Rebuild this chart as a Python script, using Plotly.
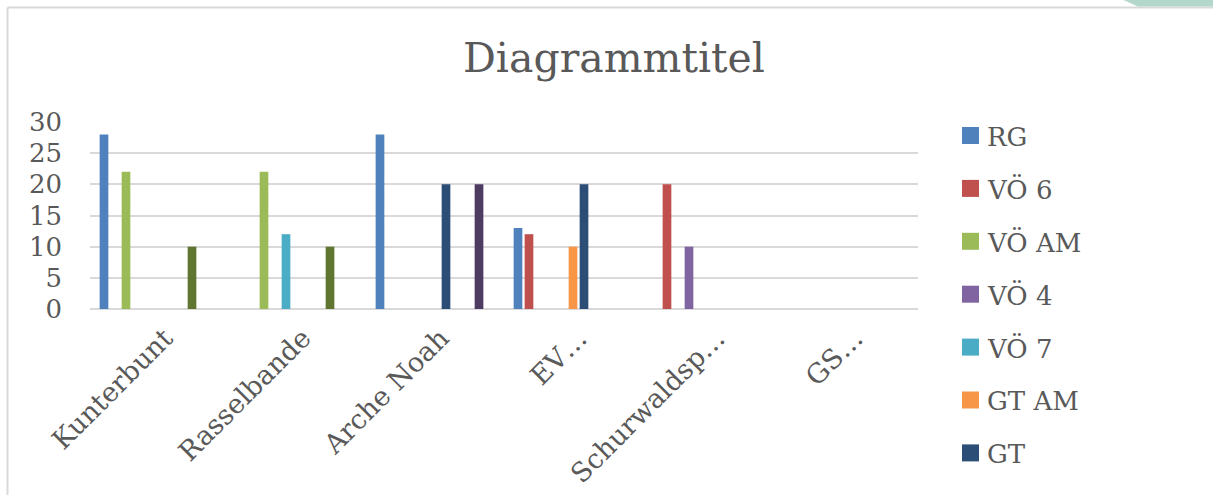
import plotly.graph_objects as go

# Categories (x axis) and series
categories = ["Kunterbunt", "Rasselbande", "Arche Noah", "EV…", "Schurwaldsp…", "GS…"]

series_names = ["RG", "VÖ 6", "VÖ AM", "VÖ 4", "VÖ 7", "GT AM", "GT",
                "GT 6", "GT 4", "GT 7", "Sonstige"]
series_colors = ["#4F81BD", "#C0504D", "#9BBB59", "#8064A2", "#4BACC6", "#F79646",
                 "#2C4D75", "#772C2A", "#5F7530", "#4D3B62", "#276A7C"]

N = None
series_values = [
    [28, N, 28, 13, N, N],    # RG
    [N, N, N, 12, 20, N],     # VÖ 6
    [22, 22, N, N, N, N],     # VÖ AM
    [N, N, N, N, 10, N],      # VÖ 4
    [N, 12, N, N, N, N],      # VÖ 7
    [N, N, N, 10, N, N],      # GT AM
    [N, N, 20, 20, N, N],     # GT
    [N, N, N, N, N, N],       # GT 6
    [10, 10, N, N, N, N],     # GT 4
    [N, N, 20, N, N, N],      # GT 7
    [N, N, N, N, N, N],       # Sonstige
]

y_ticks = [0, 5, 10, 15, 20, 25, 30]
legend_rows = 7  # entries that fit below the title area

W, H = 1213, 495
PL, PR, PT, PB = 90, 918, 122, 309  # plot area in pixels

TEXT = "#595959"
GRID = "#D9D9D9"
FONT = "DejaVu Serif"


def px_x(px):
    return (px - PL) / (PR - PL)


def px_y(py):
    return (PB - py) / (PB - PT)


fig = go.Figure()
for name, color, vals in zip(series_names, series_colors, series_values):
    fig.add_trace(go.Bar(
        x=categories, y=vals, name=name,
        marker=dict(color=color, line=dict(width=0)),
        showlegend=False,
    ))

shapes = [
    # chart frame (left and top edges)
    dict(type="line", xref="paper", yref="paper",
         x0=px_x(7.5), x1=px_x(7.5), y0=px_y(7.5), y1=px_y(H + 5),
         line=dict(color=GRID, width=2)),
    dict(type="line", xref="paper", yref="paper",
         x0=px_x(7.5), x1=px_x(W + 5), y0=px_y(7.5), y1=px_y(7.5),
         line=dict(color=GRID, width=2)),
    # slide decoration in the top-right corner
    dict(type="path", xref="paper", yref="paper",
         path=f"M {px_x(1119)} {px_y(-2)} L {px_x(1138)} {px_y(6.5)} "
              f"L {px_x(W + 5)} {px_y(6.5)} L {px_x(W + 5)} {px_y(-2)} Z",
         fillcolor="#B3D7CB", line=dict(width=0)),
]
annotations = [
    dict(text="Diagrammtitel", xref="paper", yref="paper",
         x=px_x(614), y=px_y(58), xanchor="center", yanchor="middle",
         showarrow=False, font=dict(family=FONT, size=41, color=TEXT)),
]

# legend drawn as squares with labels
for i in range(legend_rows):
    cy = 135.5 + i * 52.9
    shapes.append(dict(type="rect", xref="paper", yref="paper",
                       x0=px_x(962), x1=px_x(979), y0=px_y(cy - 8.5), y1=px_y(cy + 8.5),
                       fillcolor=series_colors[i], line=dict(width=0)))
    annotations.append(dict(text=series_names[i], xref="paper", yref="paper",
                            x=px_x(985), y=px_y(cy + 1), xanchor="left", yanchor="middle",
                            showarrow=False,
                            font=dict(family=FONT, size=26, color=TEXT)))

fig.update_layout(
    width=W, height=H,
    margin=dict(l=PL, r=W - PR, t=PT, b=H - PB, pad=0, autoexpand=False),
    paper_bgcolor="white", plot_bgcolor="white",
    barmode="group", bargap=0.123, bargroupgap=0.21,
    showlegend=False,
    shapes=shapes, annotations=annotations,
    font=dict(family=FONT, color=TEXT),
)
fig.update_xaxes(
    type="category", tickangle=-45, showgrid=False, ticks="", automargin=False,
    showline=False, zeroline=False, ticklabelstandoff=7, ticklabelshift=6,
    tickfont=dict(family=FONT, size=27, color=TEXT),
)
fig.update_yaxes(
    range=[0, 30], tickvals=y_ticks, showgrid=True, gridcolor=GRID, gridwidth=2,
    zeroline=True, zerolinecolor=GRID, zerolinewidth=2, ticks="", automargin=False,
    showline=False, ticklabelstandoff=27,
    tickfont=dict(family=FONT, size=26, color=TEXT),
)

fig.write_html("out.html")
